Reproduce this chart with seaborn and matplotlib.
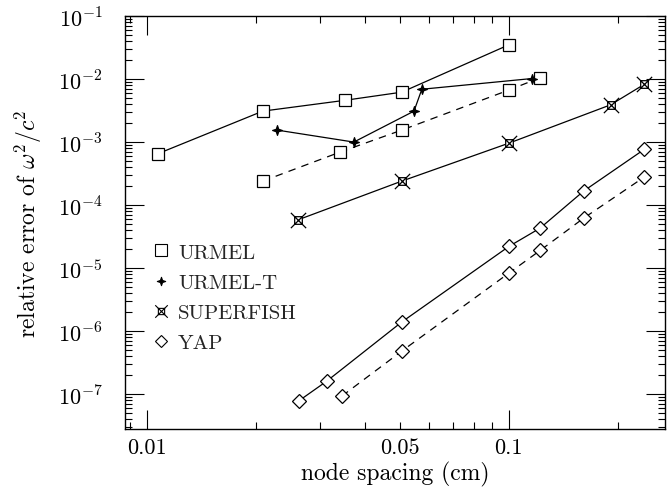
import numpy as np
import pandas as pd
import matplotlib
matplotlib.use("Agg")
import matplotlib.pyplot as plt
from matplotlib.path import Path
from matplotlib.lines import Line2D
from matplotlib.ticker import LogLocator, FuncFormatter, NullFormatter
import seaborn as sns

# data
urmel_x = [0.0107, 0.0209, 0.0352, 0.0506, 0.1]
urmel_y = [6.5e-4, 3.1e-3, 4.6e-3, 6.2e-3, 3.5e-2]
urmel_d_x = [0.0209, 0.0341, 0.0506, 0.1, 0.122]
urmel_d_y = [2.4e-4, 6.9e-4, 1.55e-3, 6.7e-3, 1.05e-2]
urmelt_x = [0.0229, 0.0373, 0.0547, 0.0575, 0.1157]
urmelt_y = [1.55e-3, 1.0e-3, 3.1e-3, 6.9e-3, 1.02e-2]
sf_x = [0.0261, 0.0506, 0.1, 0.191, 0.237]
sf_y = [5.8e-5, 2.4e-4, 9.6e-4, 3.9e-3, 8.3e-3]
yap_x = [0.0263, 0.0314, 0.0506, 0.1, 0.122, 0.161, 0.237]
yap_y = [7.8e-8, 1.6e-7, 1.39e-6, 2.2e-5, 4.3e-5, 1.67e-4, 7.7e-4]
yap_d_x = [0.0346, 0.0506, 0.1, 0.122, 0.161, 0.237]
yap_d_y = [9.3e-8, 4.8e-7, 8.3e-6, 1.9e-5, 6.2e-5, 2.8e-4]

legend_names = ["URMEL", "URMEL-T", "SUPERFISH", "YAP"]

sns.set_style("ticks")
plt.rcParams["font.family"] = "serif"
plt.rcParams["font.serif"] = ["cmr10", "DejaVu Serif"]
plt.rcParams["mathtext.fontset"] = "cm"
plt.rcParams["axes.formatter.use_mathtext"] = True
plt.rcParams["axes.unicode_minus"] = False

# superfish marker: square with a cross whose arms stick out at the corners
h = 0.5
sf_marker = Path(
    [(-h, -h), (h, -h), (h, h), (-h, h), (-h, -h),
     (-1, -1), (1, 1), (-1, 1), (1, -1)],
    [Path.MOVETO, Path.LINETO, Path.LINETO, Path.LINETO, Path.CLOSEPOLY,
     Path.MOVETO, Path.LINETO, Path.MOVETO, Path.LINETO])
# urmel-t marker: small four pointed star
ut_marker = Path([(0, 1), (0.25, 0.25), (1, 0), (0.25, -0.25), (0, -1), (-0.25, -0.25),
                  (-1, 0), (-0.25, 0.25), (0, 1)],
                 [Path.MOVETO] + [Path.LINETO] * 7 + [Path.CLOSEPOLY])

fig = plt.figure(figsize=(6.71, 4.89), dpi=100)
ax = fig.add_axes([0.186, 0.121, 0.805, 0.844])

dash = (0, (6, 5))
series = [
    (urmel_x, urmel_y, "s", 9, "white", "-"),
    (urmel_d_x, urmel_d_y, "s", 9, "white", dash),
    (urmelt_x, urmelt_y, ut_marker, 7, "black", "-"),
    (sf_x, sf_y, sf_marker, 11, "white", "-"),
    (yap_x, yap_y, "D", 7, "white", "-"),
    (yap_d_x, yap_d_y, "D", 7, "white", dash),
]
for xs, ys, mk, ms, fc, ls in series:
    sns.lineplot(x=xs, y=ys, ax=ax, color="black", linewidth=0.9, linestyle=ls,
                 marker=mk, markersize=ms, markerfacecolor=fc,
                 markeredgecolor="black", markeredgewidth=0.9,
                 sort=False, estimator=None)

ax.set_xscale("log")
ax.set_yscale("log")
ax.set_xlim(0.00869, 0.270)
ax.set_ylim(2.8e-8, 1e-1)

ax.xaxis.set_major_locator(LogLocator(base=10, numticks=10))
ax.xaxis.set_minor_locator(LogLocator(base=10, subs=np.arange(2, 10), numticks=20))
ax.xaxis.set_major_formatter(FuncFormatter(lambda v, p: "%g" % v))
ax.xaxis.set_minor_formatter(FuncFormatter(lambda v, p: "0.05" if abs(v - 0.05) < 1e-6 else ""))
ax.yaxis.set_major_locator(LogLocator(base=10, numticks=12))
ax.yaxis.set_minor_locator(LogLocator(base=10, subs=np.arange(2, 10), numticks=20))
ax.yaxis.set_major_formatter(FuncFormatter(lambda v, p: r"$10^{%d}$" % round(np.log10(v))))
ax.yaxis.set_minor_formatter(NullFormatter())

ax.tick_params(which="both", direction="in", top=True, right=True, color="black",
               labelsize=16, labelcolor="black", width=0.8)
ax.tick_params(which="major", length=14)
ax.tick_params(which="minor", length=5)
ax.tick_params(axis="x", which="both", pad=6)
ax.tick_params(axis="y", which="major", pad=16)
for s in ax.spines.values():
    s.set_color("black")
    s.set_linewidth(1.0)

ax.set_xlabel("node spacing (cm)", fontsize=17, color="black", labelpad=3)
ax.set_ylabel(r"relative error of $\omega^2/c^2$", fontsize=17, color="black", labelpad=10)

handles = [
    Line2D([], [], linestyle="none", marker="s", markersize=8, mfc="white", mec="black", mew=0.8),
    Line2D([], [], linestyle="none", marker=ut_marker, markersize=6, mfc="black", mec="black", mew=0.8),
    Line2D([], [], linestyle="none", marker=sf_marker, markersize=9, mfc="white", mec="black", mew=0.8),
    Line2D([], [], linestyle="none", marker="D", markersize=6, mfc="white", mec="black", mew=0.8),
]
ax.legend(handles, legend_names, loc="upper left", bbox_to_anchor=(0.035, 0.47),
          frameon=False, fontsize=15, handlelength=0.9, handletextpad=0.35,
          labelspacing=0.55, borderaxespad=0)

fig.savefig("out.png", dpi=100)
